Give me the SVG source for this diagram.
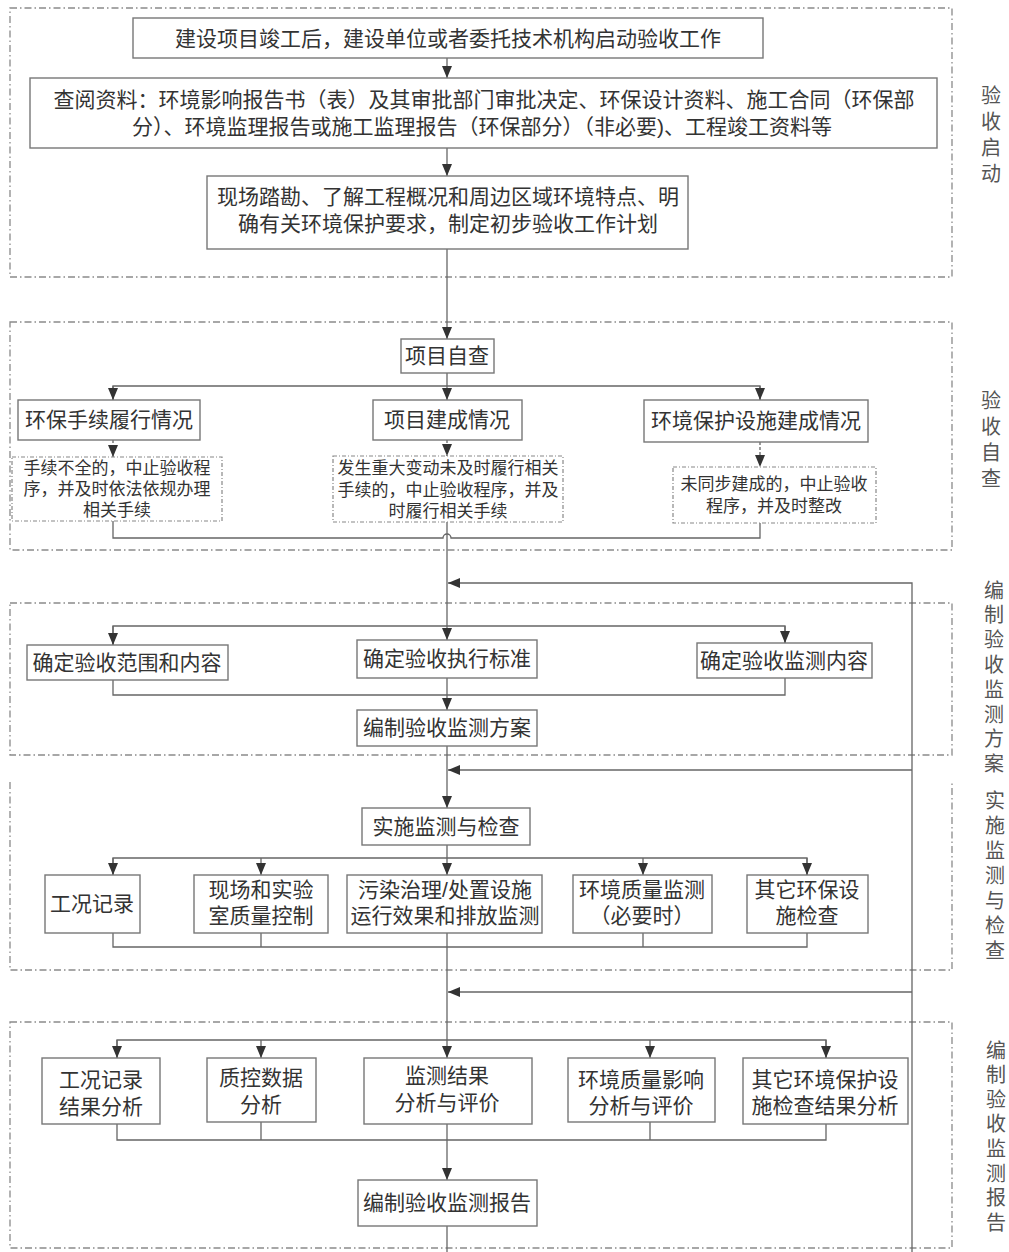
<svg xmlns="http://www.w3.org/2000/svg" width="1009" height="1252" viewBox="0 0 1009 1252">
<style>
.sec{fill:none;stroke:#8a8a8a;stroke-width:1.3;stroke-dasharray:7 3 1.5 3}
.box{fill:#fff;stroke:#777;stroke-width:1.4}
.dbox{fill:#fff;stroke:#888;stroke-width:1.2;stroke-dasharray:4 2 1 2}
.ln{fill:none;stroke:#666;stroke-width:1.3}
.dl{fill:none;stroke:#666;stroke-width:1.3;stroke-dasharray:3 2}
.t{font-family:"Liberation Sans","Noto Sans CJK SC",sans-serif;font-size:21px;fill:#333;text-anchor:middle}
.s{font-size:17px}
.lab{font-family:"Noto Sans CJK SC",sans-serif;font-size:20px;fill:#555;writing-mode:vertical-rl;text-anchor:start}
</style>
<defs>
<marker id="ah" viewBox="0 0 12 10" refX="12" refY="5" markerWidth="12" markerHeight="10" markerUnits="userSpaceOnUse" orient="auto">
<path d="M0,0 L12,5 L0,10 z" fill="#333"/>
</marker>
</defs>
<rect width="1009" height="1252" fill="#fff"/>

<g id="sections">
<rect class="sec" x="10" y="8" width="942" height="269"/>
<rect class="sec" x="10" y="322" width="942" height="228"/>
<rect class="sec" x="10" y="603" width="942" height="152"/>
<path class="sec" d="M10,782 V970 H952 V782"/>
<rect class="sec" x="10" y="1022" width="942" height="226"/>
</g>

<g id="section-labels">
<text id="lab1" class="lab" x="991" y="85" letter-spacing="6">验收启动</text>
<text id="lab2" class="lab" x="991" y="390" letter-spacing="6">验收自查</text>
<text id="lab3" class="lab" x="994" y="580" letter-spacing="4.8">编制验收监测方案</text>
<text id="lab4" class="lab" x="995" y="790" letter-spacing="5">实施监测与检查</text>
<text id="lab5" class="lab" x="996" y="1040" letter-spacing="4.6">编制验收监测报告</text>
</g>

<g id="connectors">
<path class="ln" d="M447,58 V78" marker-end="url(#ah)"/>
<path class="ln" d="M447,148 V176" marker-end="url(#ah)"/>
<path class="ln" d="M447,249 V339" marker-end="url(#ah)"/>
<path class="ln" d="M447,373 V400" marker-end="url(#ah)"/>
<path class="ln" d="M113,400 V386 H760 V400" />
<path class="ln" d="M113,386 V400" marker-end="url(#ah)"/>
<path class="ln" d="M760,386 V400" marker-end="url(#ah)"/>
<path class="dl" d="M113,440 V457" marker-end="url(#ah)"/>
<path class="dl" d="M447,440 V456" marker-end="url(#ah)"/>
<path class="dl" d="M760,442 V467" marker-end="url(#ah)"/>
<path class="ln" d="M113,521 V538 H443 A4,4 0 0 1 451,538 H760 V523"/>
<path class="ln" d="M447,522 V640" marker-end="url(#ah)"/>
<path class="ln" d="M912,1252 V583 H448" marker-end="url(#ah)"/>
<path class="ln" d="M912,770 H448" marker-end="url(#ah)"/>
<path class="ln" d="M912,992 H448" marker-end="url(#ah)"/>
<path class="ln" d="M113,645 V626 H785 V643"/>
<path class="ln" d="M113,626 V645" marker-end="url(#ah)"/>
<path class="ln" d="M785,626 V643" marker-end="url(#ah)"/>
<path class="ln" d="M113,680 V695 H785 V678"/>
<path class="ln" d="M447,678 V710" marker-end="url(#ah)"/>
<path class="ln" d="M447,746 V808" marker-end="url(#ah)"/>
<path class="ln" d="M447,845 V875" marker-end="url(#ah)"/>
<path class="ln" d="M113,875 V858 H807 V875"/>
<path class="ln" d="M113,858 V875" marker-end="url(#ah)"/>
<path class="ln" d="M261,858 V875" marker-end="url(#ah)"/>
<path class="ln" d="M643,858 V875" marker-end="url(#ah)"/>
<path class="ln" d="M807,858 V875" marker-end="url(#ah)"/>
<path class="ln" d="M113,933 V947 H807 V933 M261,933 V947 M643,933 V947"/>
<path class="ln" d="M447,933 V1058" marker-end="url(#ah)"/>
<path class="ln" d="M117,1058 V1040 H826 V1058"/>
<path class="ln" d="M117,1040 V1058" marker-end="url(#ah)"/>
<path class="ln" d="M261,1040 V1058" marker-end="url(#ah)"/>
<path class="ln" d="M650,1040 V1058" marker-end="url(#ah)"/>
<path class="ln" d="M826,1040 V1058" marker-end="url(#ah)"/>
<path class="ln" d="M117,1124 V1140 H826 V1124 M261,1122 V1140 M650,1122 V1140"/>
<path class="ln" d="M447,1124 V1180" marker-end="url(#ah)"/>
<path class="ln" d="M447,1226 V1252"/>
</g>

<g id="n1"><rect class="box" x="133" y="18" width="630" height="40"/><text class="t" x="448" y="46">建设项目竣工后，建设单位或者委托技术机构启动验收工作</text></g>
<g id="n2"><rect class="box" x="30" y="78" width="907" height="70"/><text class="t"><tspan x="484" y="107">查阅资料：环境影响报告书（表）及其审批部门审批决定、环保设计资料、施工合同（环保部</tspan><tspan x="482" y="134">分）、环境监理报告或施工监理报告（环保部分）（非必要)、工程竣工资料等</tspan></text></g>
<g id="n3"><rect class="box" x="207" y="176" width="481" height="73"/><text class="t"><tspan x="448" y="204">现场踏勘、了解工程概况和周边区域环境特点、明</tspan><tspan x="448" y="231">确有关环境保护要求，制定初步验收工作计划</tspan></text></g>

<g id="n4"><rect class="box" x="401" y="339" width="93" height="34"/><text class="t" x="447" y="363">项目自查</text></g>
<g id="n5"><rect class="box" x="18" y="400" width="182" height="40"/><text class="t" x="109" y="427">环保手续履行情况</text></g>
<g id="n6"><rect class="box" x="373" y="400" width="149" height="40"/><text class="t" x="447" y="427">项目建成情况</text></g>
<g id="n7"><rect class="box" x="644" y="400" width="224" height="42"/><text class="t" x="756" y="428">环境保护设施建成情况</text></g>
<g id="n8"><rect class="dbox" x="12" y="457" width="210" height="64"/><text class="t s"><tspan x="117" y="474">手续不全的，中止验收程</tspan><tspan x="117" y="495">序，并及时依法依规办理</tspan><tspan x="117" y="516">相关手续</tspan></text></g>
<g id="n9"><rect class="dbox" x="333" y="456" width="230" height="66"/><text class="t s"><tspan x="448" y="474">发生重大变动未及时履行相关</tspan><tspan x="448" y="496">手续的，中止验收程序，并及</tspan><tspan x="448" y="517">时履行相关手续</tspan></text></g>
<g id="n10"><rect class="dbox" x="673" y="467" width="203" height="56"/><text class="t s"><tspan x="774" y="490">未同步建成的，中止验收</tspan><tspan x="774" y="512">程序，并及时整改</tspan></text></g>

<g id="n11"><rect class="box" x="27" y="645" width="201" height="35"/><text class="t" x="127" y="670">确定验收范围和内容</text></g>
<g id="n12"><rect class="box" x="357" y="640" width="180" height="38"/><text class="t" x="447" y="666">确定验收执行标准</text></g>
<g id="n13"><rect class="box" x="697" y="643" width="175" height="35"/><text class="t" x="784" y="668">确定验收监测内容</text></g>
<g id="n14"><rect class="box" x="357" y="710" width="180" height="36"/><text class="t" x="447" y="735">编制验收监测方案</text></g>

<g id="n15"><rect class="box" x="362" y="808" width="168" height="37"/><text class="t" x="446" y="834">实施监测与检查</text></g>
<g id="n16"><rect class="box" x="45" y="875" width="95" height="58"/><text class="t" x="92" y="911">工况记录</text></g>
<g id="n17"><rect class="box" x="194" y="875" width="134" height="58"/><text class="t"><tspan x="261" y="897">现场和实验</tspan><tspan x="261" y="923">室质量控制</tspan></text></g>
<g id="n18"><rect class="box" x="347" y="875" width="195" height="58"/><text class="t"><tspan x="445" y="897">污染治理/处置设施</tspan><tspan x="445" y="923">运行效果和排放监测</tspan></text></g>
<g id="n19"><rect class="box" x="573" y="875" width="139" height="58"/><text class="t"><tspan x="642" y="897">环境质量监测</tspan><tspan x="642" y="923">（必要时）</tspan></text></g>
<g id="n20"><rect class="box" x="747" y="875" width="121" height="58"/><text class="t"><tspan x="807" y="897">其它环保设</tspan><tspan x="807" y="923">施检查</tspan></text></g>

<g id="n21"><rect class="box" x="42" y="1058" width="118" height="66"/><text class="t"><tspan x="101" y="1087">工况记录</tspan><tspan x="101" y="1114">结果分析</tspan></text></g>
<g id="n22"><rect class="box" x="207" y="1058" width="109" height="64"/><text class="t"><tspan x="261" y="1085">质控数据</tspan><tspan x="261" y="1112">分析</tspan></text></g>
<g id="n23"><rect class="box" x="364" y="1058" width="168" height="66"/><text class="t"><tspan x="447" y="1083">监测结果</tspan><tspan x="447" y="1110">分析与评价</tspan></text></g>
<g id="n24"><rect class="box" x="568" y="1058" width="147" height="64"/><text class="t"><tspan x="641" y="1087">环境质量影响</tspan><tspan x="641" y="1113">分析与评价</tspan></text></g>
<g id="n25"><rect class="box" x="743" y="1058" width="165" height="66"/><text class="t"><tspan x="825" y="1087">其它环境保护设</tspan><tspan x="825" y="1113">施检查结果分析</tspan></text></g>
<g id="n26"><rect class="box" x="358" y="1180" width="179" height="46"/><text class="t" x="447" y="1210">编制验收监测报告</text></g>
</svg>
